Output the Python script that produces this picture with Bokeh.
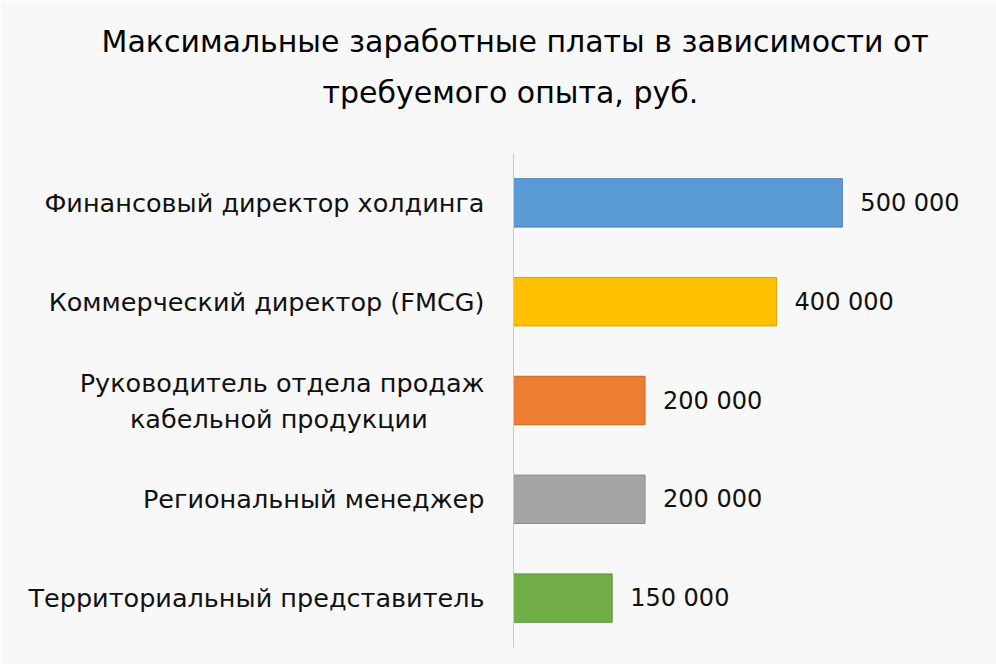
from bokeh.plotting import figure
from bokeh.models import FactorRange, Range1d, ColumnDataSource, Title
from bokeh.embed import file_html
from bokeh.resources import INLINE
from bokeh.core.properties import value

title_lines = ["Максимальные заработные платы в зависимости от",
               "требуемого опыта, руб."]
NB = "\u00a0"
categories = ["Финансовый директор холдинга",
              "Коммерческий директор (FMCG)",
              "Руководитель отдела продаж\nкабельной продукции" + NB * 7,
              "Региональный менеджер",
              "Территориальный представитель"]
salaries = [500000, 400000, 200000, 200000, 150000]
value_labels = ["500 000", "400 000", "200 000", "200 000", "150 000"]
fill_colors = ["#5B9BD5", "#FFC000", "#ED7D31", "#A5A5A5", "#70AD47"]
line_colors = ["#4A84BA", "#D9A300", "#C9682A", "#8C8C8C", "#5F943C"]

src = ColumnDataSource(dict(cat=categories, sal=salaries, lab=value_labels,
                            fill=fill_colors, line=line_colors))

BG = "#f8f8f8"
p = figure(width=996, height=664, output_backend="svg", toolbar_location=None,
           y_range=FactorRange(*categories[::-1]), x_range=Range1d(0, 710000),
           x_axis_location=None, min_border_left=513, min_border_right=16,
           min_border_top=153, min_border_bottom=17)
p.background_fill_color = BG
p.border_fill_color = BG
p.outline_line_color = None
p.xgrid.visible = False
p.ygrid.visible = False

FRAME_LEFT = 513
p.title.text = title_lines[0]
p.title.align = "left"
p.title.offset = 101 - FRAME_LEFT
p.title.standoff = 14
p.title.text_font = "DejaVu Sans"
p.title.text_font_size = "30px"
p.title.text_font_style = "normal"
p.title.text_color = "#000000"

# spacer between the title block and the plot area
p.add_layout(Title(text=" ", text_font_size="1px", standoff=34), "above")
p.add_layout(Title(text=title_lines[1], align="left", offset=322 - FRAME_LEFT,
                   standoff=14, text_font="DejaVu Sans", text_font_size="30px",
                   text_font_style="normal", text_color="#000000"), "above")

p.hbar(y="cat", right="sal", left=0, height=0.49, source=src,
       fill_color="fill", line_color="line", line_width=1)
p.text(x="sal", y="cat", text="lab", source=src, x_offset=18,
       text_baseline="middle", text_align="left",
       text_font=value("DejaVu Sans"), text_font_size="24px", text_color="#111111")

ax = p.yaxis[0]
ax.axis_line_color = "#c8c8c8"
ax.axis_line_width = 1
ax.major_tick_line_color = None
ax.minor_tick_line_color = None
ax.major_label_standoff = 23
ax.major_label_text_font = "DejaVu Sans"
ax.major_label_text_font_size = "25.5px"
ax.major_label_text_color = "#111111"

open("out.html", "w").write(file_html(p, INLINE))
